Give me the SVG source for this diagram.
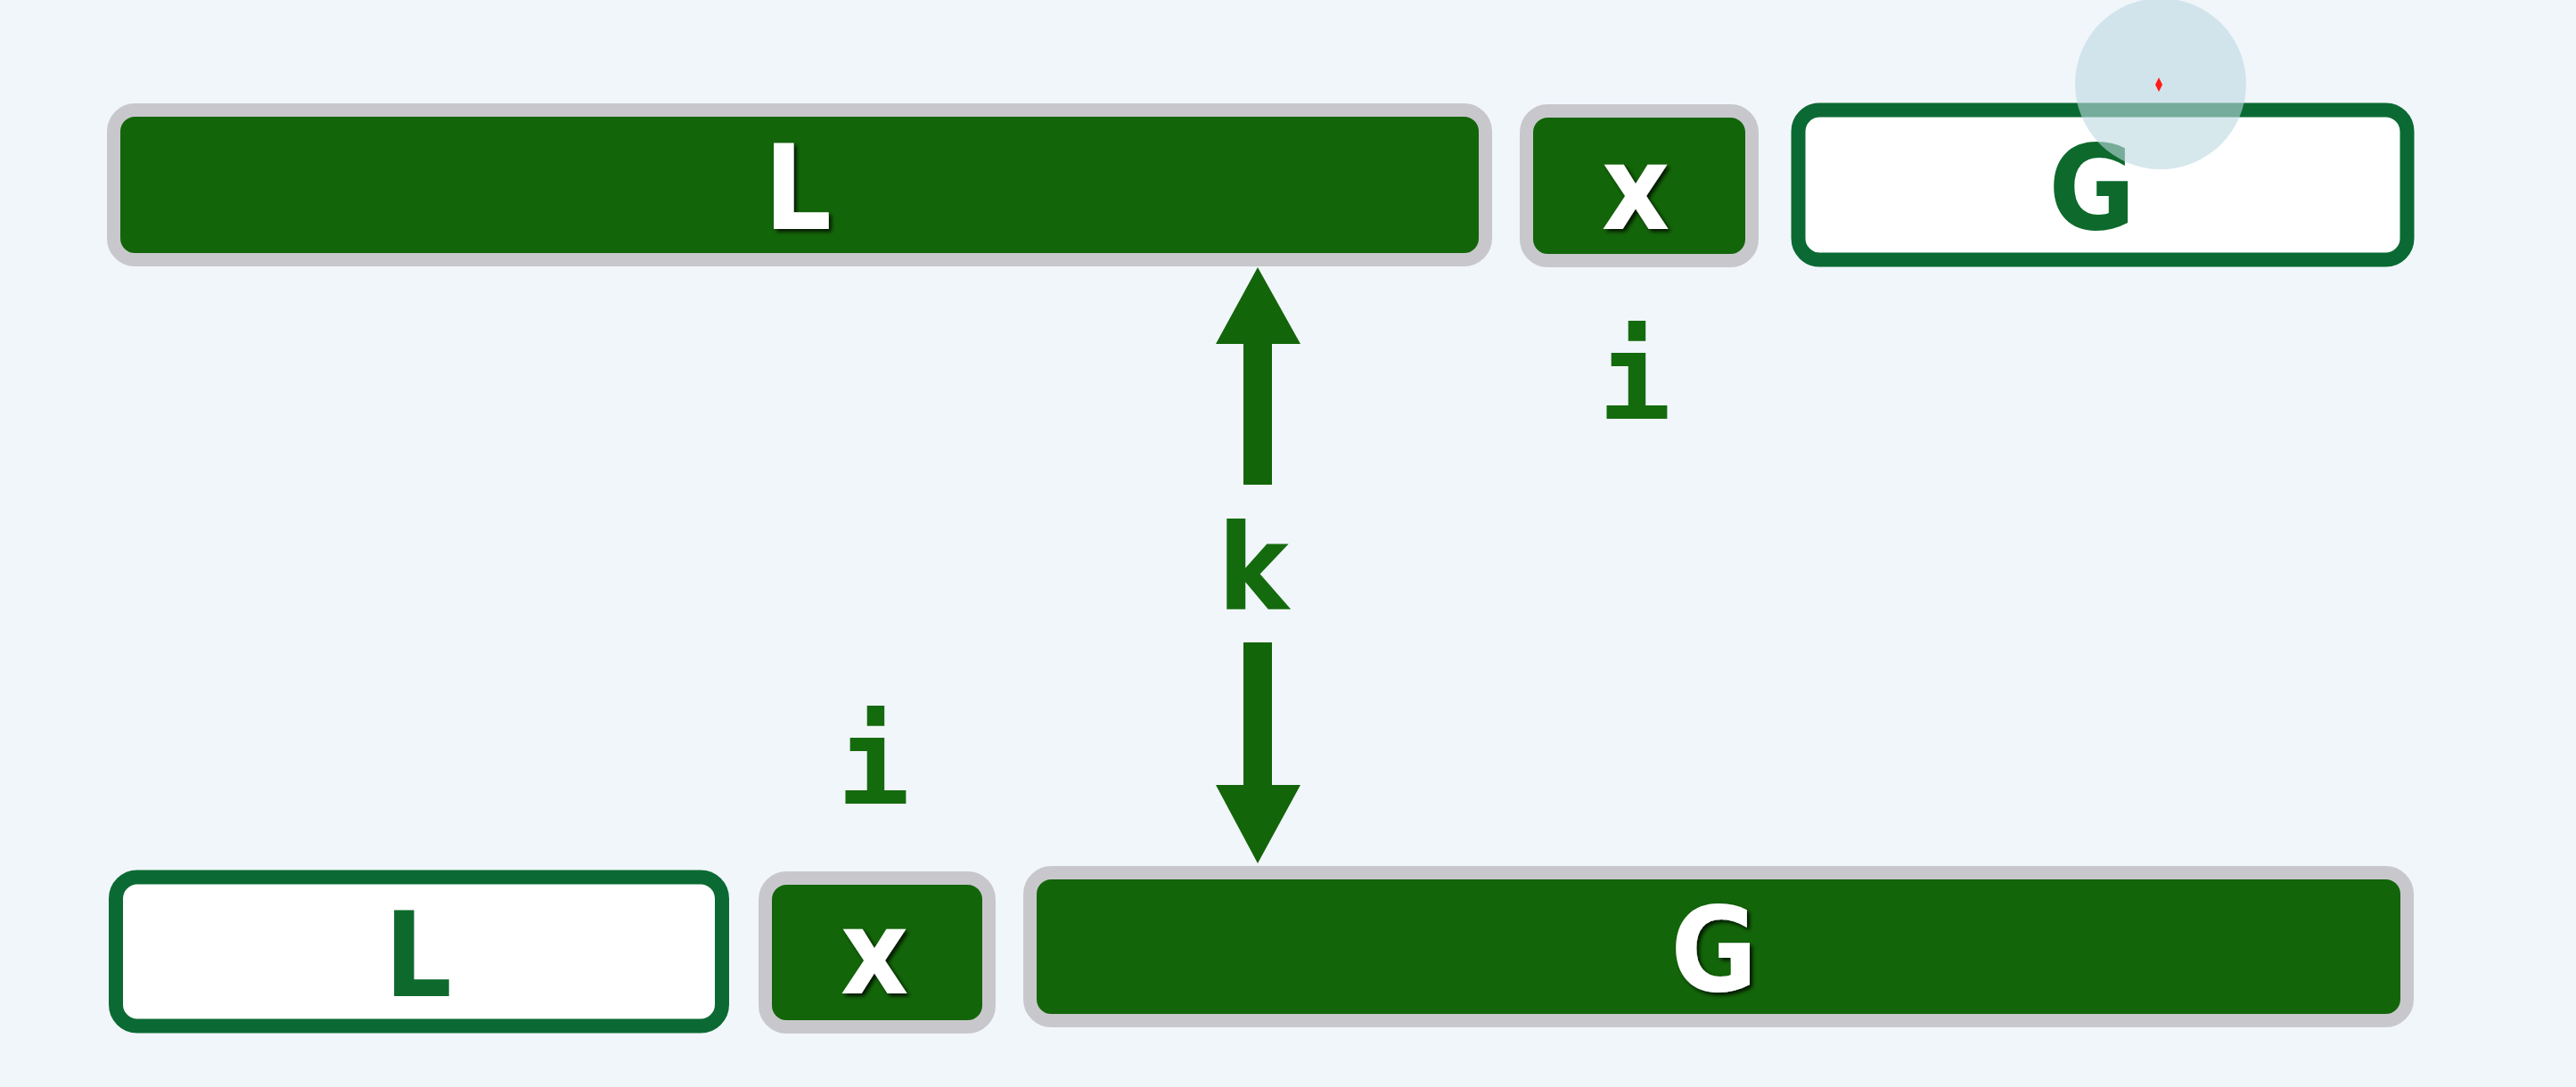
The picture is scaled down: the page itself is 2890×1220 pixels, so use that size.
<svg xmlns="http://www.w3.org/2000/svg" width="2890" height="1220" viewBox="0 0 2890 1220">
<defs>
<style>
.bg{fill:#f1f6fb}
.solid{fill:#136509;stroke:#c8c8cc;stroke-width:15}
.hollow{fill:#ffffff;stroke:#0b6a33;stroke-width:16}
.lbl{font-family:"DejaVu Sans","Liberation Sans",sans-serif;font-weight:bold;font-stretch:condensed;font-size:132px;text-anchor:middle}
.wt{fill:#ffffff;filter:url(#sh)}
.gt{fill:#0d6a2c}
.var{font-family:"DejaVu Sans Mono","Liberation Mono",monospace;font-weight:bold;font-size:136px;text-anchor:middle;fill:#146b0e}
.klbl{font-family:"DejaVu Sans","Liberation Sans",sans-serif;font-weight:bold;font-stretch:condensed;font-size:133px;text-anchor:middle;fill:#146b0e}
.arrow{fill:#136509}
</style>
<filter id="sh" x="-30%" y="-30%" width="160%" height="160%">
<feDropShadow dx="3" dy="3" stdDeviation="2" flood-color="#000000" flood-opacity="0.8"/>
</filter>
</defs>
<rect class="bg" x="0" y="0" width="2890" height="1220"/>

<g id="top-L">
<rect class="solid" x="127.5" y="123.5" width="1539" height="168" rx="24"/>
<text class="lbl wt" x="895" y="257">L</text>
</g>
<g id="top-x">
<rect class="solid" x="1712.5" y="124.5" width="253" height="168" rx="24"/>
<text class="lbl wt" x="1835" y="257">x</text>
</g>
<g id="top-G">
<rect class="hollow" x="2017.5" y="123.5" width="683" height="168" rx="24"/>
<text class="lbl gt" x="2347" y="257">G</text>
</g>
<g id="top-i">
<text class="var" x="1834" y="470">i</text>
</g>

<g id="bottom-L">
<rect class="hollow" x="130" y="984.5" width="680" height="167" rx="24"/>
<text class="lbl gt" x="469" y="1118">L</text>
</g>
<g id="bottom-x">
<rect class="solid" x="858.5" y="985.5" width="251" height="167" rx="24"/>
<text class="lbl wt" x="981" y="1115">x</text>
</g>
<g id="bottom-G">
<rect class="solid" x="1155.5" y="979.5" width="1545" height="166" rx="24"/>
<text class="lbl wt" x="1923" y="1112">G</text>
</g>
<g id="bottom-i">
<text class="var" x="980" y="902">i</text>
</g>

<g id="connectors">
<path class="arrow" d="M1395 544 L1395 386 L1364 386 L1411 300 L1459 386 L1427 386 L1427 544 Z"/>
<path class="arrow" d="M1395 721 L1395 881 L1364 881 L1411 969 L1459 881 L1427 881 L1427 721 Z"/>
<text class="klbl" x="1406" y="684">k</text>
</g>

<g id="cursor-highlight">
<circle cx="2424" cy="94" r="96" fill="#bcd9e1" fill-opacity="0.6"/>
<path d="M2422 87 L2426 95 L2422 103 L2418 95 Z" fill="#ff1a1a"/>
</g>
</svg>
